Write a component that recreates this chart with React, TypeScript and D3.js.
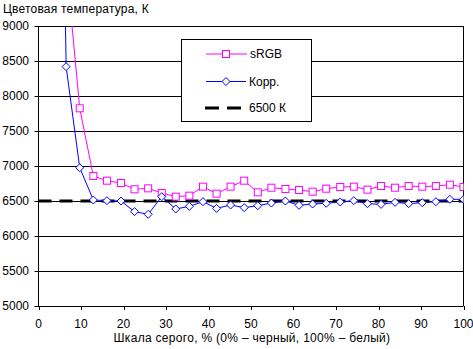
import React from "react";
import * as d3 from "d3";

// grey level, %
const grey = [
  3.2, 6.5, 9.7, 12.9, 16.1, 19.4, 22.6, 25.8, 29.0, 32.3, 35.5, 38.7, 41.9,
  45.2, 48.4, 51.6, 54.8, 58.1, 61.3, 64.5, 67.7, 71.0, 74.2, 77.4, 80.6, 83.9,
  87.1, 90.3, 93.5, 96.8, 100,
];
// colour temperature, K
const srgb = [
  14000, 9900, 7824, 6857, 6790, 6757, 6667, 6681, 6614, 6562, 6576, 6705, 6605,
  6705, 6790, 6624, 6690, 6671, 6657, 6633, 6676, 6700, 6705, 6662, 6714, 6690,
  6714, 6705, 6714, 6733, 6700,
];
const korr = [
  21000, 8419, 6976, 6514, 6505, 6500, 6348, 6310, 6562, 6386, 6424, 6490, 6395,
  6443, 6405, 6433, 6471, 6500, 6438, 6457, 6467, 6486, 6505, 6462, 6452, 6481,
  6462, 6476, 6490, 6524, 6524,
];
const target = 6500;
const yTicks = [5000, 5500, 6000, 6500, 7000, 7500, 8000, 8500, 9000];
const xTicks = [0, 10, 20, 30, 40, 50, 60, 70, 80, 90, 100];

const W = 473,
  H = 349;
const left = 38.5,
  right = 463.5,
  top = 26,
  bottom = 306;
const font = "Arial, 'Liberation Sans', sans-serif";
const fs = 12;

const App = () => {
  const x = d3.scaleLinear().domain([0, 100]).range([left, right]);
  const y = d3.scaleLinear().domain([5000, 9000]).range([bottom, top]);

  const line = d3
    .line<number>()
    .x((d, i) => x(grey[i]))
    .y((d) => y(d));

  const diamond = (cx: number, cy: number) =>
    `M${cx},${cy - 4}L${cx + 4},${cy}L${cx},${cy + 4}L${cx - 4},${cy}Z`;

  return (
    <div style={{ position: "absolute", left: 0, top: 0 }}>
      <svg width={W} height={H} style={{ display: "block", background: "#fff" }}>
        <defs>
          <clipPath id="plot">
            <rect x={left} y={top} width={right - left} height={bottom - top} />
          </clipPath>
        </defs>

        {/* horizontal grid */}
        {yTicks.map((t) => (
          <line
            key={t}
            x1={left - 4}
            x2={right}
            y1={Math.round(y(t)) + 0.5}
            y2={Math.round(y(t)) + 0.5}
            stroke="#000"
          />
        ))}
        <line x1={left} x2={left} y1={top} y2={bottom} stroke="#000" />
        <line x1={right} x2={right} y1={top} y2={bottom} stroke="#000" />
        {xTicks.map((t) => (
          <line
            key={t}
            x1={Math.round(x(t)) + 0.5}
            x2={Math.round(x(t)) + 0.5}
            y1={bottom}
            y2={bottom + 4}
            stroke="#000"
          />
        ))}

        {/* y labels */}
        {yTicks.map((t) => (
          <text
            key={t}
            x={29}
            y={y(t) + 4}
            textAnchor="end"
            fontFamily={font}
            fontSize={fs}
          >
            {t}
          </text>
        ))}
        {/* x labels */}
        {xTicks.map((t) => (
          <text
            key={t}
            x={x(t)}
            y={328}
            textAnchor="middle"
            fontFamily={font}
            fontSize={fs}
          >
            {t}
          </text>
        ))}

        <text x={3} y={13} fontFamily={font} fontSize={fs} letterSpacing={0.2}>
          Цветовая температура, К
        </text>
        <text
          x={252}
          y={342}
          textAnchor="middle"
          fontFamily={font}
          fontSize={fs}
          letterSpacing={0.3}
        >
          Шкала серого, % (0% – черный, 100% – белый)
        </text>

        <g clipPath="url(#plot)">
          <line
            x1={left}
            x2={right}
            y1={y(target)}
            y2={y(target)}
            stroke="#000"
            strokeWidth={3}
            strokeDasharray="13,8"
          />
          <path d={line(srgb) || ""} fill="none" stroke="#ff00ff" />
          {srgb.map((v, i) => (
            <rect
              key={i}
              x={x(grey[i]) - 3.5}
              y={y(v) - 3.5}
              width={7}
              height={7}
              fill="#fff"
              stroke="#ff00ff"
            />
          ))}
          <path d={line(korr) || ""} fill="none" stroke="#0000ff" />
          {korr.map((v, i) => (
            <path
              key={i}
              d={diamond(x(grey[i]), y(v))}
              fill="#fff"
              stroke="#0000ff"
            />
          ))}
        </g>

        {/* legend */}
        <rect x={181.5} y={39.5} width={130} height={82} fill="#fff" stroke="#000" />
        <line x1={206} x2={247} y1={54} y2={54} stroke="#ff00ff" />
        <rect x={222.5} y={50.5} width={7} height={7} fill="#fff" stroke="#ff00ff" />
        <text x={250} y={58} fontFamily={font} fontSize={fs}>
          sRGB
        </text>
        <line x1={206} x2={246} y1={81.5} y2={81.5} stroke="#0000ff" />
        <path d={diamond(226, 81.5)} fill="#fff" stroke="#0000ff" />
        <text x={249} y={85.5} fontFamily={font} fontSize={fs}>
          Корр.
        </text>
        <line
          x1={205}
          x2={242}
          y1={108}
          y2={108}
          stroke="#000"
          strokeWidth={3}
          strokeDasharray="14,8"
        />
        <text x={249} y={112} fontFamily={font} fontSize={fs}>
          6500 К
        </text>
      </svg>
    </div>
  );
};

export default App;
